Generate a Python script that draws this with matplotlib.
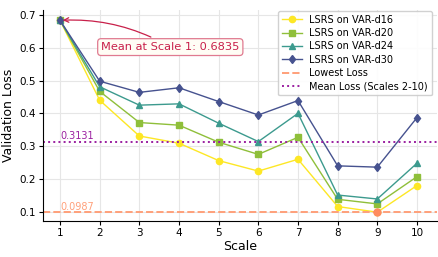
import numpy as np
import matplotlib.pyplot as plt

scales = np.arange(1, 11)
# validation loss per model
d16 = [0.6835, 0.440, 0.331, 0.309, 0.256, 0.224, 0.260, 0.116, 0.0987, 0.180]
d20 = [0.6835, 0.467, 0.372, 0.364, 0.312, 0.275, 0.327, 0.138, 0.124, 0.207]
d24 = [0.6835, 0.481, 0.425, 0.429, 0.370, 0.314, 0.400, 0.151, 0.139, 0.248]
d30 = [0.6835, 0.498, 0.464, 0.478, 0.436, 0.395, 0.439, 0.240, 0.236, 0.387]
labels = ["LSRS on VAR-d16", "LSRS on VAR-d20", "LSRS on VAR-d24", "LSRS on VAR-d30"]
lowest = 0.0987
mean_loss = 0.3131
mean_s1 = 0.6835

colors = ["#fde725", "#8fbf3a", "#3c9a8e", "#46528f"]
markers = ["o", "s", "^", "d"]

fig, ax = plt.subplots(figsize=(4.39, 2.57), dpi=100)
for ys, lab, c, m in zip([d16, d20, d24, d30], labels, colors, markers):
    ax.plot(scales, ys, color=c, marker=m, markersize=4.5, linewidth=1.0, label=lab)

ax.axhline(lowest, color="#ffa07a", linestyle="--", linewidth=1.4, label="Lowest Loss")
ax.axhline(mean_loss, color="#9b1fa0", linestyle=":", linewidth=1.4, label="Mean Loss (Scales 2-10)")
ax.plot(9, lowest, "o", color="#ff8c60", markersize=5, zorder=5)

ax.text(1, lowest + 0.008, f"{lowest:.4f}", color="#ffa07a", fontsize=7)
ax.text(1, mean_loss + 0.008, f"{mean_loss:.4f}", color="#9b1fa0", fontsize=7)

ax.annotate(f"Mean at Scale 1: {mean_s1:.4f}", xy=(1, mean_s1), xytext=(3.78, 0.602),
            ha="center", va="center", fontsize=8.2, color="#c8204a",
            bbox=dict(boxstyle="round,pad=0.3", fc="#fffdf5", ec="#e07a90", lw=0.9),
            arrowprops=dict(arrowstyle="->", color="#c8204a", lw=0.9,
                            connectionstyle="arc3,rad=0.15"))

ax.set_xlim(0.56, 10.5)
ax.set_ylim(0.0726, 0.715)
ax.set_xticks(scales)
ax.set_xlabel("Scale", fontsize=9, labelpad=2)
ax.set_ylabel("Validation Loss", fontsize=9, labelpad=3)
ax.tick_params(labelsize=7.5, length=3, pad=2)
ax.grid(True, color="#e6e6e6", linewidth=0.8)
ax.spines["top"].set_visible(False)
ax.spines["right"].set_visible(False)
ax.legend(loc="upper right", fontsize=7, framealpha=0.9, borderpad=0.4, labelspacing=0.35,
          bbox_to_anchor=(1.0, 1.02))

fig.subplots_adjust(left=0.097, right=0.995, top=0.961, bottom=0.141)
fig.savefig("out.png")
